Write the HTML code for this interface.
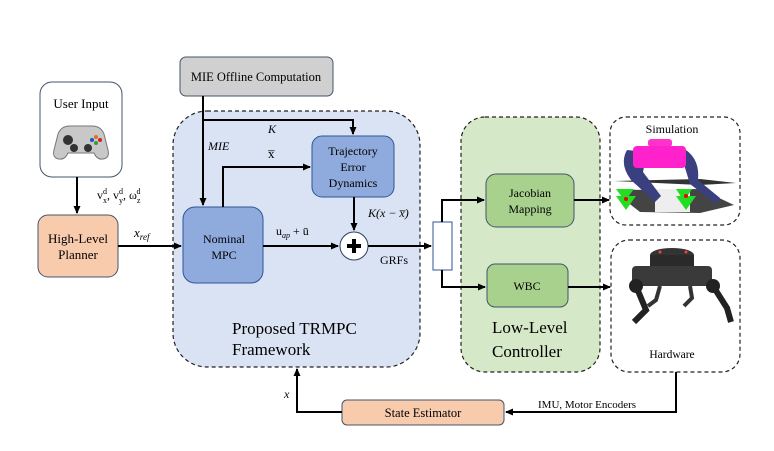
<!DOCTYPE html>
<html><head><meta charset="utf-8"><style>
html,body{margin:0;padding:0;background:#fff;}
svg, svg text{font-family:"Liberation Serif","DejaVu Serif",serif;}
</style></head><body>
<svg width="774" height="446" viewBox="0 0 774 446" xmlns="http://www.w3.org/2000/svg" font-family="Liberation Serif, DejaVu Serif, serif">
<defs>
<marker id="ah" markerWidth="8" markerHeight="8" refX="7" refY="4" orient="auto" markerUnits="userSpaceOnUse"><path d="M0,0.5 L8,4 L0,7.5 z" fill="#000"/></marker>
</defs>
<rect x="173" y="111" width="247" height="256" rx="34" fill="#dae3f3" stroke="#222" stroke-width="1.2" stroke-dasharray="4,3"/>
<rect x="461" y="117" width="139" height="255" rx="24" fill="#d5e8c8" stroke="#222" stroke-width="1.2" stroke-dasharray="4,3"/>
<rect x="610" y="117" width="130" height="108" rx="16" fill="#fff" stroke="#222" stroke-width="1.2" stroke-dasharray="4,3"/>
<rect x="611" y="240" width="129" height="132" rx="18" fill="#fff" stroke="#222" stroke-width="1.2" stroke-dasharray="4,3"/>

<rect x="40" y="82" width="82" height="95" rx="12" fill="#fff" stroke="#44546a" stroke-width="1"/>
<text x="81" y="108" font-size="13" text-anchor="middle">User Input</text>
<g>
<path d="M58,134 q3,-8 12,-8 h22 q9,0 12,8 l4,16 q2,8 -5,9 q-6,1 -9,-6 h-26 q-3,7 -9,6 q-7,-1 -5,-9z" fill="#c8c8c8" stroke="#777"/>
<circle cx="68" cy="140" r="5" fill="#333"/><circle cx="88" cy="148" r="4" fill="#333"/><circle cx="74" cy="148" r="4" fill="#333"/>
<circle cx="96" cy="137" r="2" fill="#e07020"/><circle cx="100" cy="140" r="2" fill="#d02020"/><circle cx="92" cy="140" r="2" fill="#2050c0"/><circle cx="96" cy="143" r="2" fill="#30a030"/>
</g>

<rect x="38" y="215" width="80" height="62" rx="10" fill="#f8cbad" stroke="#44546a" stroke-width="1"/>
<text x="78" y="243" font-size="13" text-anchor="middle">High-Level</text>
<text x="78" y="259" font-size="13" text-anchor="middle">Planner</text>

<rect x="180" y="57" width="153" height="39" rx="6" fill="#d0d0d0" stroke="#44546a" stroke-width="1"/>
<text x="256" y="81" font-size="12.5" text-anchor="middle">MIE Offline Computation</text>

<rect x="183" y="207" width="80" height="76" rx="12" fill="#8faadc" stroke="#2f5597" stroke-width="1"/>
<text x="224" y="243" font-size="12" text-anchor="middle">Nominal</text>
<text x="224" y="259" font-size="12" text-anchor="middle">MPC</text>

<rect x="312" y="136" width="82" height="61" rx="10" fill="#8faadc" stroke="#2f5597" stroke-width="1"/>
<text x="353" y="155" font-size="12" text-anchor="middle">Trajectory</text>
<text x="353" y="171" font-size="12" text-anchor="middle">Error</text>
<text x="353" y="187" font-size="12" text-anchor="middle">Dynamics</text>

<circle cx="354" cy="246" r="14" fill="#fff" stroke="#2f3f5f" stroke-width="1"/>
<path d="M354,239 v14 M347,246 h14" stroke="#000" stroke-width="4"/>

<rect x="433" y="222" width="19" height="48" fill="#fff" stroke="#2f5597" stroke-width="1"/>

<rect x="486" y="174" width="88" height="53" rx="10" fill="#a9d18e" stroke="#44546a" stroke-width="1"/>
<text x="530" y="197" font-size="12" text-anchor="middle">Jacobian</text>
<text x="530" y="213" font-size="12" text-anchor="middle">Mapping</text>

<rect x="487" y="264" width="81" height="43" rx="8" fill="#a9d18e" stroke="#44546a" stroke-width="1"/>
<text x="527" y="290" font-size="12" text-anchor="middle">WBC</text>

<rect x="342" y="400" width="162" height="25" rx="5" fill="#f8cbad" stroke="#44546a" stroke-width="1"/>
<text x="423" y="417" font-size="12.5" text-anchor="middle">State Estimator</text>

<text x="232" y="334" font-size="17">Proposed TRMPC</text>
<text x="232" y="355" font-size="17">Framework</text>
<text x="492" y="333" font-size="17">Low-Level</text>
<text x="492" y="357" font-size="17">Controller</text>

<g stroke="#000" stroke-width="2" fill="none">
<path d="M77,177 V213" marker-end="url(#ah)"/>
<path d="M118,246 H181" marker-end="url(#ah)"/>
<path d="M203,96 V205" marker-end="url(#ah)"/>
<path d="M203,120 H353 V134" marker-end="url(#ah)"/>
<path d="M223,207 V167 H310" marker-end="url(#ah)"/>
<path d="M354,197 V230" marker-end="url(#ah)"/>
<path d="M263,246 H338" marker-end="url(#ah)"/>
<path d="M368,246 H431" marker-end="url(#ah)"/>
<path d="M442,222 V200 H484" marker-end="url(#ah)"/>
<path d="M442,270 V287 H485" marker-end="url(#ah)"/>
<path d="M574,200 H609" marker-end="url(#ah)"/>
<path d="M568,287 H610" marker-end="url(#ah)"/>
<path d="M676,372 V412 H506" marker-end="url(#ah)"/>
<path d="M342,412 H297 V369" marker-end="url(#ah)"/>
</g>

<text x="97" y="199" font-size="12">v<tspan font-size="8" dy="4">x</tspan><tspan font-size="8" dx="-4" dy="-9">d</tspan><tspan dy="5">, v</tspan><tspan font-size="8" dy="4">y</tspan><tspan font-size="8" dx="-4" dy="-9">d</tspan><tspan dy="5">, ω</tspan><tspan font-size="8" dy="4">z</tspan><tspan font-size="8" dx="-4" dy="-9">d</tspan></text>
<text x="134" y="237" font-size="13" font-style="italic">x<tspan font-size="9" dy="3">ref</tspan></text>
<text x="268" y="133" font-size="12" font-style="italic">K</text>
<text x="208" y="150" font-size="12" font-style="italic">MIE</text>
<text x="268" y="158" font-size="13">x̅</text>
<text x="368" y="217" font-size="12" font-style="italic">K(x − x̅)</text>
<text x="276" y="235" font-size="12">u<tspan font-size="8" dy="3" font-style="italic">ap</tspan><tspan dy="-3"> + ū</tspan></text>
<text x="380" y="264" font-size="12">GRFs</text>
<text x="284" y="398" font-size="12" font-style="italic">x</text>
<text x="538" y="408" font-size="11">IMU, Motor Encoders</text>

<text x="672" y="133" font-size="12" text-anchor="middle">Simulation</text>
<g>
<path d="M614,181 L700,179 L736,183 L700,185z" fill="#333"/>
<path d="M620,190 L700,189 L734,205 L700,213 L640,212 L622,198z" fill="#444"/>
<path d="M655,189 H690 V212 H655z" fill="#eee"/>
<path d="M627,150 q-8,14 4,30 l24,22 l6,-6 l-18,-24 l4,-20z" fill="#3a3f80"/>
<path d="M686,150 q14,10 12,30 l22,18 l-4,6 l-26,-20 l-8,-26z" fill="#3a3f80"/>
<rect x="648" y="139" width="24" height="8" rx="3" fill="#ff33cc"/>
<rect x="633" y="146" width="53" height="22" rx="4" fill="#ff22cc"/>
<path d="M616,189 h18 l-9,12z M616,196 h20 l-10,14z" fill="#22dd22"/>
<path d="M676,189 h16 l-8,12z M676,196 h20 l-10,14z" fill="#22dd22"/>
<circle cx="626" cy="199" r="2" fill="#e00"/><circle cx="686" cy="196" r="2" fill="#e00"/>
</g>

<g>
<ellipse cx="672" cy="255" rx="22" ry="7" fill="#333"/>
<rect x="650" y="255" width="44" height="14" fill="#2a2a2a"/>
<rect x="632" y="266" width="80" height="20" rx="4" fill="#3a3a3a"/>
<circle cx="636" cy="286" r="7" fill="#222"/><circle cx="713" cy="286" r="7" fill="#222"/>
<path d="M636,286 l10,24 l-12,12" stroke="#222" stroke-width="6" fill="none"/>
<path d="M713,286 l14,22 l4,14" stroke="#222" stroke-width="6" fill="none"/>
<path d="M660,286 l-4,14 l-8,6" stroke="#333" stroke-width="4" fill="none"/>
<path d="M690,286 l2,12 l-8,8" stroke="#333" stroke-width="4" fill="none"/>
<circle cx="660" cy="252" r="1.5" fill="#e44"/><circle cx="686" cy="252" r="1.5" fill="#e44"/>
</g>
<text x="672" y="358" font-size="11.5" text-anchor="middle">Hardware</text>
</svg>
</body></html>
